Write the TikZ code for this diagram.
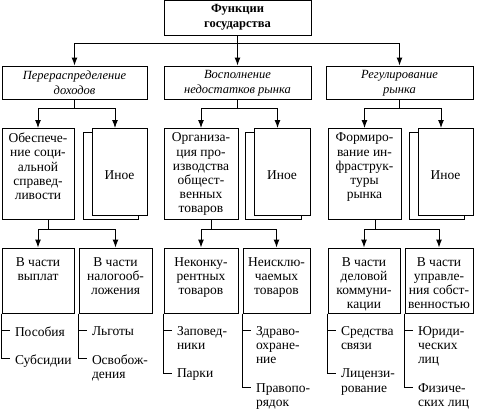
\documentclass[tikz,border=0pt]{standalone}
\usepackage{fontspec}
\setmainfont{Liberation Serif}
\usepackage{tikz}
\usetikzlibrary{arrows.meta}
\usetikzlibrary{shadows}
\usetikzlibrary{positioning}

\begin{document}
\begin{tikzpicture}[x = 1pt, y = -1pt, line width = 1pt,
  box/.style = {draw, fill = white, inner sep = 0},
  head/.style = {box, align = center, font = \bfseries\fontsize{12.5}{15}\selectfont},
  sect/.style = {box, align = center, font = \itshape\fontsize{12.5}{15}\selectfont},
  txt/.style = {inner sep = 0, align = center, font = \fontsize{13.5}{14.2}\selectfont},
  pile/.style = {box, txt, minimum height = 87, text height = 15pt, text depth = 0pt,
    copy shadow = {shadow xshift = -8.5pt, shadow yshift = -4pt}},
  item/.style = {inner sep = 0, align = left, anchor = north west, xshift = 5pt, yshift = 4.5pt,
    font = \fontsize{13.5}{14.2}\selectfont},
  arr/.style = {-{Latex[length = 8pt, width = 6pt]}}]
  \useasboundingbox (0, 0) rectangle (479, 416);
  % level 1
  \node (top) at (237.5, 17.75) [head, minimum width = 147, minimum height = 34.5] {Функции\\государства};
  % level 2
  \node (redis) at (74.5, 82.75) [sect, minimum width = 145, minimum height = 33.5] {Перераспределение\\доходов};
  \node (gaps) at (237.5, 82.75) [sect, minimum width = 147, minimum height = 33.5] {Восполнение\\недостатков рынка};
  \node (regul) at (399.5, 82.75) [sect, minimum width = 147, minimum height = 33.5] {Регулирование\\рынка};
  \draw (top.south) -- ++(0, 8) coordinate (t0);
  \draw[arr] (t0) -| (redis.north);
  \draw[arr] (t0) -- (gaps.north);
  \draw[arr] (t0) -| (regul.north);
  % level 3
  \node (soc) at (38, 173.75) [box, minimum width = 72, minimum height = 90.5] {};
  \node (soct) [txt, below = 4.5pt of soc.north] {Обеспече-\\ние соци-\\альной\\справед-\\ливости};
  \node (other1) at (119.5, 172) [pile, minimum width = 55] {Иное};
  \node (prod) at (201, 173.75) [box, minimum width = 74, minimum height = 90.5] {};
  \node (prodt) [txt, below = 4.5pt of prod.north] {Организа-\\ция про-\\изводства\\общест-\\венных\\товаров};
  \node (other2) at (282, 172) [pile, minimum width = 56] {Иное};
  \node (infra) at (364.5, 173.75) [box, minimum width = 73, minimum height = 90.5] {};
  \node (infrat) [txt, below = 4.5pt of infra.north] {Формиро-\\вание ин-\\фраструк-\\туры\\рынка};
  \node (other3) at (445.5, 172) [pile, minimum width = 55] {Иное};
  \draw (redis.south) -- ++(0, 8.5) coordinate (b1);
  \draw[arr] (b1) -| (soc.north);
  \draw[arr] (b1) -| ([xshift = -4.5pt]other1.north);
  \draw (gaps.south) -- ++(0, 8.5) coordinate (b2);
  \draw[arr] (b2) -| (prod.north);
  \draw[arr] (b2) -| ([xshift = -4.5pt]other2.north);
  \draw (regul.south) -- ++(0, 8.5) coordinate (b3);
  \draw[arr] (b3) -| (infra.north);
  \draw[arr] (b3) -| ([xshift = -4.5pt]other3.north);
  % level 4
  \node (pay) at (38, 280.5) [box, minimum width = 72, minimum height = 65] {};
  \node (payt) [txt, below = 9.5pt of pay.north] {В части\\выплат};
  \node (tax) at (115.5, 280.5) [box, minimum width = 73, minimum height = 65] {};
  \node (taxt) [txt, below = 9.5pt of tax.north] {В части\\налогооб-\\ложения};
  \node (rival) at (201, 280.5) [box, minimum width = 74, minimum height = 65] {};
  \node (rivalt) [txt, below = 9.5pt of rival.north] {Неконку-\\рентных\\товаров};
  \node (excl) at (276.5, 280.5) [box, minimum width = 67, minimum height = 65] {};
  \node (exclt) [txt, below = 9.5pt of excl.north] {Неисклю-\\чаемых\\товаров};
  \node (comm) at (364, 280.5) [box, minimum width = 72, minimum height = 65] {};
  \node (commt) [txt, below = 9.5pt of comm.north] {В части\\деловой\\коммуни-\\кации};
  \node (prop) at (439, 280.5) [box, minimum width = 68, minimum height = 65] {};
  \node (propt) [txt, below = 9.5pt of prop.north] {В части\\управле-\\ния собст-\\венностью};
  \draw ([xshift = 10.5pt]soc.south) -- ++(0, 9.5) coordinate (c1);
  \draw[arr] (c1) -| (pay.north);
  \draw[arr] (c1) -| (tax.north);
  \draw ([xshift = 10.5pt]prod.south) -- ++(0, 9.5) coordinate (c2);
  \draw[arr] (c2) -| (rival.north);
  \draw[arr] (c2) -| (excl.north);
  \draw ([xshift = 10.5pt]infra.south) -- ++(0, 9.5) coordinate (c3);
  \draw[arr] (c3) -| (comm.north);
  \draw[arr] (c3) -| (prop.north);
  % items
  \draw (pay.south west) |- ++(8, 17) node (posob) [item] {Пособия};
  \draw (pay.south west) |- ++(8, 45.4) node (subs) [item] {Субсидии};
  \draw (tax.south west) |- ++(8, 17) node (lgot) [item] {Льготы};
  \draw (tax.south west) |- ++(8, 45.4) node (osvob) [item] {Освобож-\\дения};
  \draw (rival.south west) |- ++(8, 17) node (zapov) [item] {Заповед-\\ники};
  \draw (rival.south west) |- ++(8, 59.6) node (parks) [item] {Парки};
  \draw (excl.south west) |- ++(8, 17) node (health) [item] {Здраво-\\охране-\\ние};
  \draw (excl.south west) |- ++(8, 73.8) node (order) [item] {Правопо-\\рядок};
  \draw (comm.south west) |- ++(8, 17) node (link) [item] {Средства\\связи};
  \draw (comm.south west) |- ++(8, 59.6) node (licen) [item] {Лицензи-\\рование};
  \draw (prop.south west) |- ++(8, 17) node (legal) [item] {Юриди-\\ческих\\лиц};
  \draw (prop.south west) |- ++(8, 73.8) node (phys) [item] {Физиче-\\ских лиц};
\end{tikzpicture}
\end{document}
